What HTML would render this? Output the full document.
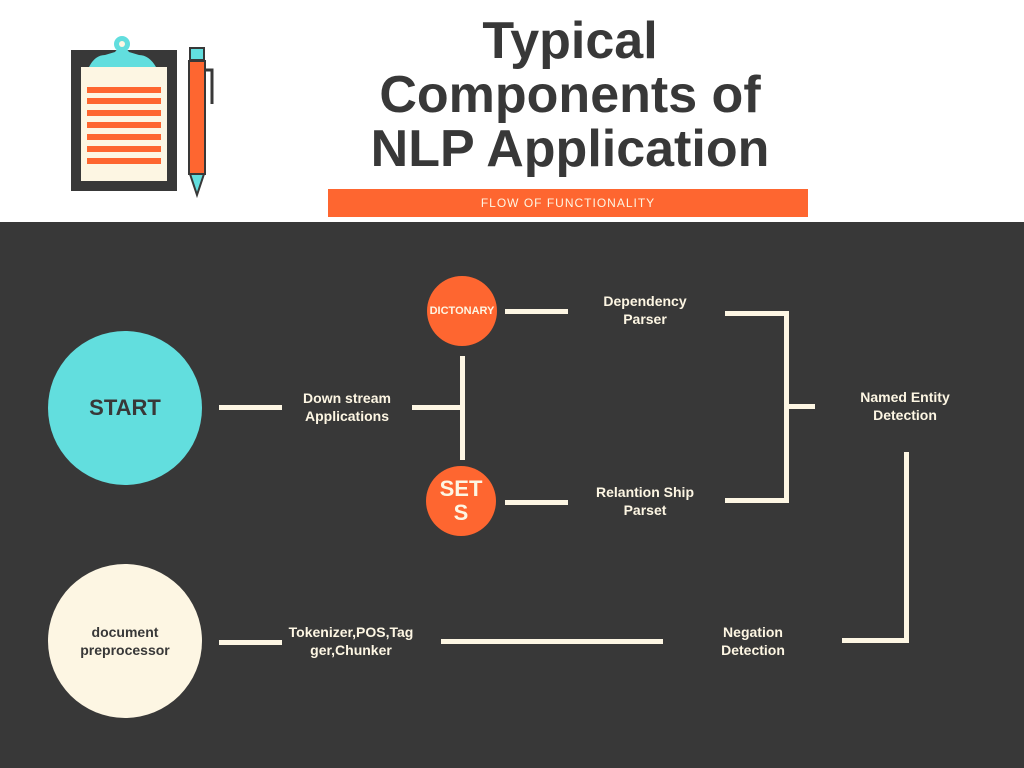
<!DOCTYPE html>
<html><head><style>
body{margin:0;width:1024px;height:768px;position:relative;background:#fff;font-family:"Liberation Sans",sans-serif;overflow:hidden}
.dark{position:absolute;left:0;top:222px;width:1024px;height:546px;background:#383838}
.t{position:absolute;text-align:center;font-weight:bold;color:#fdf6e3;font-size:14px;line-height:18px;transform:translateX(-50%);white-space:nowrap}
.l{position:absolute;background:#fdf6e3}
.c{position:absolute;border-radius:50%;display:flex;align-items:center;justify-content:center;text-align:center;font-weight:bold}
</style></head><body>
<div style="position:absolute;left:320px;top:14px;width:500px;text-align:center;font-weight:bold;font-size:52px;line-height:54px;color:#383838">Typical<br>Components of<br>NLP Application</div>
<div style="position:absolute;left:328px;top:189px;width:480px;height:28px;background:#fe6630;color:#fdf6e3;font-size:12px;line-height:28px;text-align:center;letter-spacing:1px">FLOW OF FUNCTIONALITY</div>
<svg style="position:absolute;left:60px;top:30px" width="170" height="170">
<rect x="11" y="20" width="106" height="141" fill="#383838"/>
<rect x="21" y="37" width="86" height="114" fill="#fdf6e3"/>
<path d="M29 37 Q35 25 45 25 L55 22 Q62 12 69 22 L79 25 Q89 25 96 37 Z" fill="#62dede"/>
<circle cx="62" cy="14" r="8" fill="#62dede"/><circle cx="62" cy="14" r="3" fill="#fdf6e3"/>
<g fill="#fe6630"><rect x="27" y="57" width="74" height="6"/><rect x="27" y="68" width="74" height="6"/><rect x="27" y="80" width="74" height="6"/><rect x="27" y="92" width="74" height="6"/><rect x="27" y="104" width="74" height="6"/><rect x="27" y="116" width="74" height="6"/><rect x="27" y="128" width="74" height="6"/></g>
<rect x="130" y="18" width="14" height="12" fill="#62dede" stroke="#383838" stroke-width="2"/>
<rect x="129" y="31" width="16" height="113" fill="#fe6630" stroke="#383838" stroke-width="2"/>
<path d="M145 40 H152 V74" fill="none" stroke="#383838" stroke-width="3"/>
<path d="M130 144 H144 L137 165 Z" fill="#62dede" stroke="#383838" stroke-width="2"/>
</svg>
<div class="dark"></div>
<div class="c" style="left:48px;top:331px;width:154px;height:154px;background:#62dede;color:#383838;font-size:22px">START</div>
<div class="c" style="left:48px;top:564px;width:154px;height:154px;background:#fdf6e3;color:#383838;font-size:14px;line-height:18px">document<br>preprocessor</div>
<div class="c" style="left:427px;top:276px;width:70px;height:70px;background:#fe6630;color:#fdf6e3;font-size:11px">DICTONARY</div>
<div class="c" style="left:426px;top:466px;width:70px;height:70px;background:#fe6630;color:#fdf6e3;font-size:22px;line-height:24px">SET<br>S</div>
<div class="l" style="left:219px;top:405px;width:63px;height:5px"></div>
<div class="l" style="left:412px;top:405px;width:50px;height:5px"></div>
<div class="l" style="left:460px;top:356px;width:5px;height:104px"></div>
<div class="l" style="left:505px;top:309px;width:63px;height:5px"></div>
<div class="l" style="left:505px;top:500px;width:63px;height:5px"></div>
<div class="l" style="left:725px;top:311px;width:64px;height:5px"></div>
<div class="l" style="left:784px;top:311px;width:5px;height:192px"></div>
<div class="l" style="left:725px;top:498px;width:64px;height:5px"></div>
<div class="l" style="left:787px;top:404px;width:28px;height:5px"></div>
<div class="l" style="left:904px;top:452px;width:5px;height:191px"></div>
<div class="l" style="left:842px;top:638px;width:67px;height:5px"></div>
<div class="l" style="left:441px;top:639px;width:222px;height:5px"></div>
<div class="l" style="left:219px;top:640px;width:63px;height:5px"></div>
<div class="t" style="left:347px;top:389px">Down stream<br>Applications</div>
<div class="t" style="left:645px;top:292px">Dependency<br>Parser</div>
<div class="t" style="left:645px;top:483px">Relantion Ship<br>Parset</div>
<div class="t" style="left:905px;top:388px">Named Entity<br>Detection</div>
<div class="t" style="left:753px;top:623px">Negation<br>Detection</div>
<div class="t" style="left:351px;top:623px">Tokenizer,POS,Tag<br>ger,Chunker</div>
</body></html>
